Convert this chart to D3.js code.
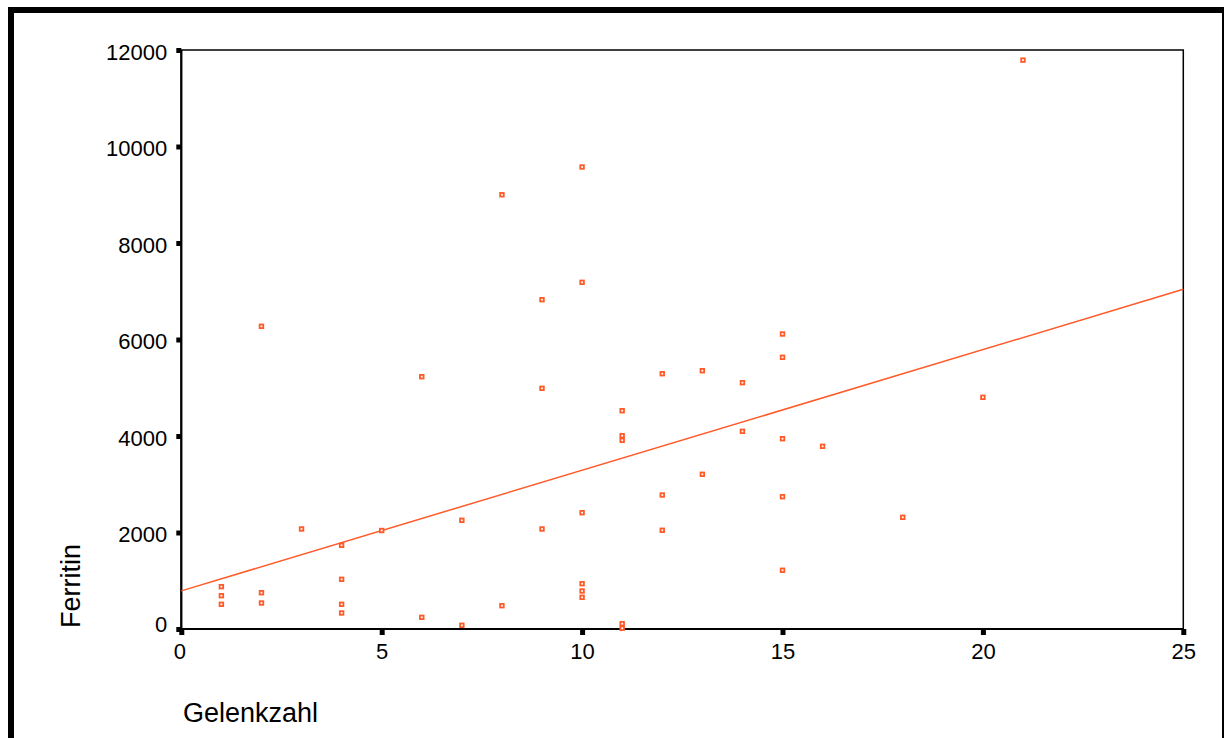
<!DOCTYPE html>
<html>
<head>
<meta charset="utf-8">
<script src="https://cdn.jsdelivr.net/npm/d3@7"></script>
<style>
  html, body { margin: 0; padding: 0; background: #fff; }
  svg { display: block; font-family: "Liberation Sans", Arial, sans-serif; }
</style>
</head>
<body>
<svg id="chart" width="1224" height="738"></svg>
<script>
// Data
const gelenkzahl = [21, 10, 8, 10, 9, 2, 15, 15, 13, 12, 6, 14, 9, 20, 11, 14, 11, 11, 15, 16,
                    13, 12, 15, 10, 18, 7, 3, 9, 12, 5, 4, 15, 4, 10, 1, 10, 2, 1, 10, 1,
                    4, 2, 8, 4, 6, 7, 11, 11];
const ferritin = [11790, 9575, 9000, 7185, 6825, 6273, 6114, 5631, 5353, 5291, 5229, 5105, 4988, 4802, 4524, 4097, 4006, 3911, 3944, 3786,
                  3206, 2777, 2742, 2410, 2315, 2253, 2073, 2073, 2046, 2041, 1735, 1217, 1030, 939, 877, 788, 752, 690, 657, 512,
                  512, 539, 483, 332, 242, 77, 110, 15];
const fitX = [0, 25];
const fitY = [790, 7040];
const xTicks = [0, 5, 10, 15, 20, 25];
const yTicks = [0, 2000, 4000, 6000, 8000, 10000, 12000];
const xTitle = "Gelenkzahl";
const yTitle = "Ferritin";

(function () {
const svg = d3.select("#chart");
const orange = "#ff5a28";

// outer frame
svg.append("rect").attr("x", 8).attr("y", 7).attr("width", 1216).attr("height", 6).attr("fill", "#000");
svg.append("rect").attr("x", 8).attr("y", 7).attr("width", 6).attr("height", 731).attr("fill", "#000");
svg.append("rect").attr("x", 1222).attr("y", 7).attr("width", 2).attr("height", 731).attr("fill", "#000");

const pL = 181.3, pR = 1183.3, pT = 50, pB = 629;
const x = d3.scaleLinear().domain([0, 25]).range([pL, pR]);
const y = d3.scaleLinear().domain([0, 12000]).range([pB, pT]);

// plot box
svg.append("rect")
  .attr("x", pL).attr("y", pT)
  .attr("width", pR - pL).attr("height", pB - pT)
  .attr("fill", "none").attr("stroke", "#000").attr("stroke-width", 1.5);
svg.append("line").attr("x1", pL).attr("x2", pL).attr("y1", pT).attr("y2", pB)
  .attr("stroke", "#000").attr("stroke-width", 2.2);
svg.append("line").attr("x1", pL).attr("x2", pR).attr("y1", pB).attr("y2", pB)
  .attr("stroke", "#000").attr("stroke-width", 2.2);

// axes
const yAxis = svg.append("g").attr("transform", `translate(${pL},0)`)
  .call(d3.axisLeft(y).tickValues(yTicks).tickSize(5).tickPadding(9).tickFormat(d3.format("d")));
yAxis.select(".domain").remove();
yAxis.selectAll(".tick line").attr("stroke", "#000").attr("stroke-width", 5);
yAxis.selectAll(".tick text").attr("font-size", 22).attr("fill", "#000")
  .attr("font-family", "'Liberation Sans', Arial, sans-serif")
  .attr("dy", d => d === 0 ? 2 : 9);

const xAxis = svg.append("g").attr("transform", `translate(0,${pB})`)
  .call(d3.axisBottom(x).tickValues(xTicks).tickSize(6).tickPadding(8).tickFormat(d3.format("d")));
xAxis.select(".domain").remove();
xAxis.selectAll(".tick line").attr("stroke", "#000").attr("stroke-width", 5);
xAxis.selectAll(".tick text").attr("font-size", 22).attr("fill", "#000")
  .attr("font-family", "'Liberation Sans', Arial, sans-serif")
  .attr("dx", d => d === 0 ? -2 : 0);

// fit line
svg.append("line")
  .attr("x1", x(fitX[0])).attr("y1", y(fitY[0]))
  .attr("x2", x(fitX[1])).attr("y2", y(fitY[1]))
  .attr("stroke", orange).attr("stroke-width", 1.5);

// points
const pts = gelenkzahl.map((g, i) => ({ g, f: ferritin[i] }));
svg.append("g").selectAll("rect").data(pts).enter().append("rect")
  .attr("x", d => x(d.g) - 1.8).attr("y", d => y(d.f) - 1.8)
  .attr("width", 3.6).attr("height", 3.6)
  .attr("fill", "#fff").attr("stroke", orange).attr("stroke-width", 1.8);

// titles
svg.append("text").attr("x", 183).attr("y", 722)
  .attr("font-size", 27).attr("fill", "#000").text(xTitle);
svg.append("text").attr("transform", "translate(80,628) rotate(-90)")
  .attr("font-size", 27).attr("fill", "#000").text(yTitle);
})();
</script>
</body>
</html>
